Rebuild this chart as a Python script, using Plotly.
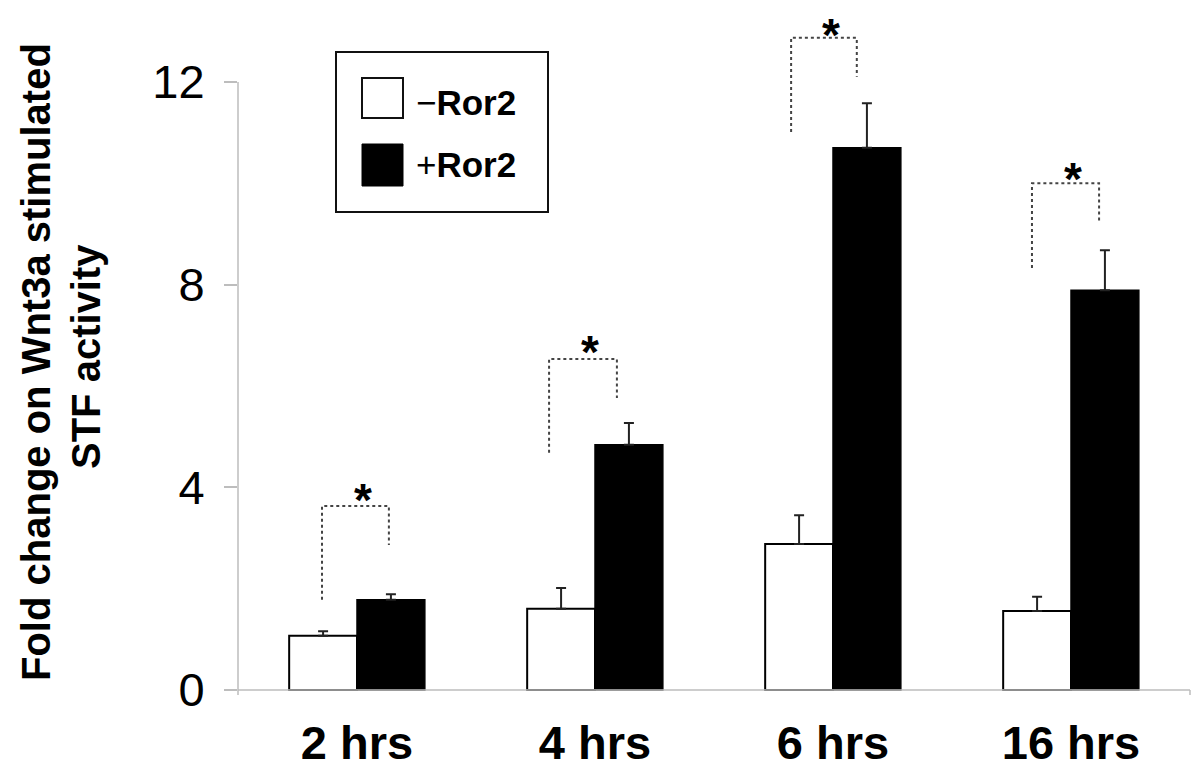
import plotly.graph_objects as go

# ---- data ----
categories = ["2 hrs", "4 hrs", "6 hrs", "16 hrs"]
minus_ror2 = [1.07, 1.60, 2.88, 1.56]
minus_ror2_err = [0.09, 0.41, 0.57, 0.28]
plus_ror2 = [1.78, 4.84, 10.70, 7.89]
plus_ror2_err = [0.11, 0.43, 0.88, 0.79]
y_ticks = [0, 4, 8, 12]

# significance brackets (left foot, top, right foot) and asterisk level
br_left = [1.78, 4.68, 11.01, 8.33]
br_top = [3.63, 6.53, 12.87, 10.0]
br_right = [2.86, 5.76, 12.10, 9.25]
star_y = [3.74, 6.67, 12.92, 10.09]
br_xl = [-0.147, -0.193, -0.176, -0.164]
br_xr = [0.134, 0.092, 0.100, 0.118]
star_dx = 0.03

W, H = 1200, 773
OFF = 8  # default page body margin in the browser
ML, MR, MT, MB = 238 - OFF, 10 + OFF, 11 - OFF, 78 + OFF
PW, PH = W - ML - MR, H - MT - MB


def px(x):  # page pixel -> paper x
    return (x - OFF - ML) / PW


def py(y):  # page pixel -> paper y
    return (H - MB - (y - OFF)) / PH


fig = go.Figure()
fig.add_trace(go.Bar(
    x=categories, y=minus_ror2, name="−Ror2",
    marker=dict(color="white", line=dict(color="black", width=2)),
    error_y=dict(type="data", array=minus_ror2_err, arrayminus=[0] * 4,
                 symmetric=False, color="#222", thickness=2, width=5),
))
fig.add_trace(go.Bar(
    x=categories, y=plus_ror2, name="+Ror2",
    marker=dict(color="black", line=dict(color="black", width=1.5)),
    error_y=dict(type="data", array=plus_ror2_err, arrayminus=[0] * 4,
                 symmetric=False, color="#222", thickness=2, width=5),
))

shapes = []
annotations = []
# axis lines
axc = "#bdbdbd"
shapes.append(dict(type="line", xref="paper", yref="y", x0=0, x1=0, y0=-0.1, y1=12,
                   line=dict(color=axc, width=1.5)))
shapes.append(dict(type="line", xref="paper", yref="y", x0=0, x1=1, y0=0, y1=0,
                   line=dict(color=axc, width=1.5)))
shapes.append(dict(type="line", xref="paper", yref="y", x0=1, x1=1, y0=0, y1=-0.1,
                   line=dict(color=axc, width=1.5)))

# brackets
for i in range(len(categories)):
    xl = i + br_xl[i]
    xr = i + br_xr[i]
    path = f"M {xl},{br_left[i]} L {xl},{br_top[i]} L {xr},{br_top[i]} L {xr},{br_right[i]}"
    shapes.append(dict(type="path", xref="x", yref="y", path=path,
                       line=dict(color="#444", width=2, dash="dot")))
    annotations.append(dict(x=i + (br_xl[i] + br_xr[i]) / 2 + star_dx, y=star_y[i],
                            xref="x", yref="y",
                            text="<b>*</b>", showarrow=False,
                            font=dict(family="Liberation Sans", size=46, color="black"),
                            yanchor="middle", xanchor="center"))

# legend (drawn manually)
shapes.append(dict(type="rect", xref="paper", yref="paper", x0=px(336), x1=px(548),
                   y0=py(212), y1=py(52), line=dict(color="#111", width=2), fillcolor="white"))
shapes.append(dict(type="rect", xref="paper", yref="paper", x0=px(362), x1=px(403),
                   y0=py(118), y1=py(78), line=dict(color="#111", width=2), fillcolor="white"))
shapes.append(dict(type="rect", xref="paper", yref="paper", x0=px(362), x1=px(403),
                   y0=py(186), y1=py(144), line=dict(color="black", width=1), fillcolor="black"))
annotations.append(dict(x=px(414), y=py(102), xref="paper", yref="paper", showarrow=False,
                        text="−<b>Ror2</b>", xanchor="left", yanchor="middle",
                        font=dict(family="Liberation Sans", size=35, color="black")))
annotations.append(dict(x=px(414), y=py(165), xref="paper", yref="paper", showarrow=False,
                        text="+<b>Ror2</b>", xanchor="left", yanchor="middle",
                        font=dict(family="Liberation Sans", size=35, color="black")))

# y-axis title (two lines)
annotations.append(dict(x=px(36), y=py(362), xref="paper", yref="paper", showarrow=False,
                        text="<b>Fold change on Wnt3a stimulated</b>",
                        textangle=-90, xanchor="center", yanchor="middle",
                        font=dict(family="Liberation Sans", size=40, color="black")))
annotations.append(dict(x=px(86), y=py(357), xref="paper", yref="paper", showarrow=False,
                        text="<b>STF activity</b>",
                        textangle=-90, xanchor="center", yanchor="middle",
                        font=dict(family="Liberation Sans", size=40, color="black")))

fig.update_layout(
    width=W, height=H,
    margin=dict(l=ML, r=MR, t=MT, b=MB),
    paper_bgcolor="white", plot_bgcolor="white",
    barmode="group", bargap=0.43, bargroupgap=0,
    showlegend=False,
    shapes=shapes, annotations=annotations,
    xaxis=dict(showline=False, showgrid=False, zeroline=False, ticks="",
               tickfont=dict(family="Liberation Sans", size=47, color="black", weight="bold"),
               ticklabelstandoff=16),
    yaxis=dict(range=[-0.1, 13.4], showline=False, showgrid=False, zeroline=False,
               tickvals=y_ticks, ticktext=[str(v) for v in y_ticks],
               ticks="outside", ticklen=13, tickwidth=1.5, tickcolor=axc,
               tickfont=dict(family="Liberation Sans", size=47, color="black"),
               ticklabelstandoff=10),
)

fig.write_html("out.html")
